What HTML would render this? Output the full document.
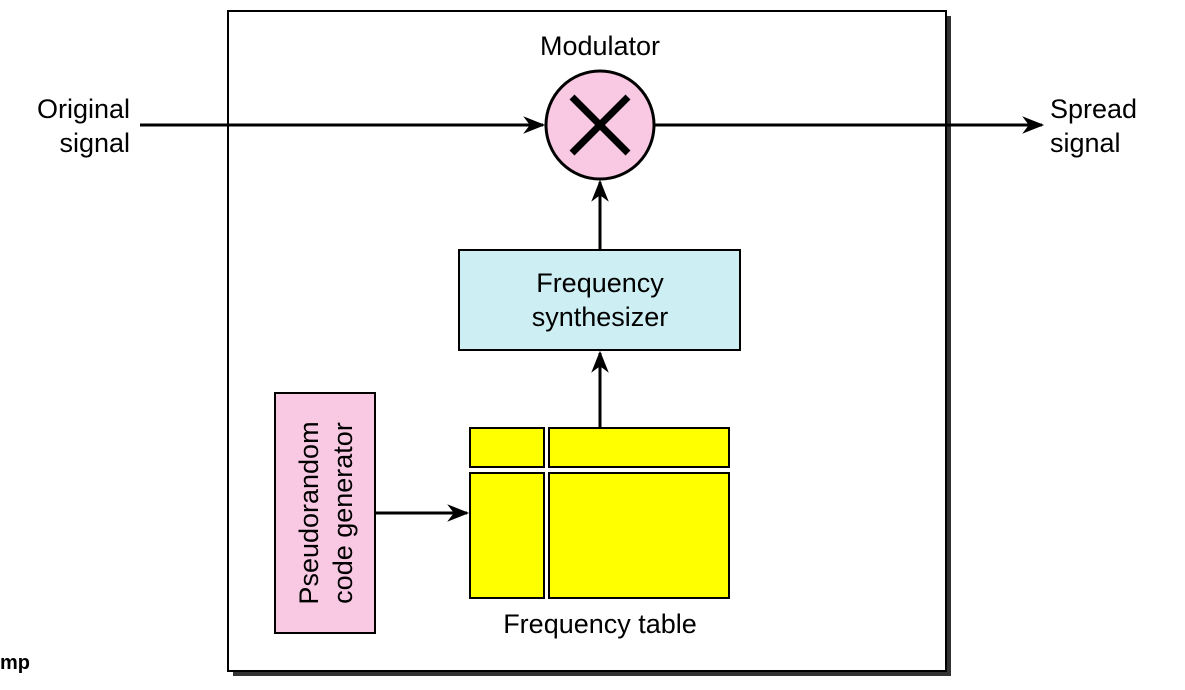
<!DOCTYPE html>
<html><head><style>body{margin:0;background:#fff;width:1185px;height:685px;overflow:hidden}</style></head>
<body>
<svg width="1185" height="685" viewBox="0 0 1185 685" xmlns="http://www.w3.org/2000/svg" font-family="Liberation Sans, sans-serif">
<defs><marker id="a" viewBox="0 0 10 10" refX="9" refY="5" markerWidth="24" markerHeight="22" markerUnits="userSpaceOnUse" orient="auto"><path d="M0,1 L10,5 L0,9 L3,5 Z" fill="#000"/></marker></defs>
<rect x="233" y="16" width="718" height="660" fill="#333"/>
<rect x="228" y="11" width="718" height="660" fill="#fff" stroke="#000" stroke-width="2"/>
<line x1="140" y1="125" x2="543" y2="125" stroke="#000" stroke-width="3" marker-end="url(#a)"/>
<line x1="655" y1="125" x2="1042" y2="125" stroke="#000" stroke-width="3" marker-end="url(#a)"/>
<circle cx="600" cy="125" r="54" fill="#f9c9e3" stroke="#000" stroke-width="3"/>
<line x1="572" y1="97" x2="628" y2="153" stroke="#000" stroke-width="7"/>
<line x1="628" y1="97" x2="572" y2="153" stroke="#000" stroke-width="7"/>
<line x1="600" y1="250" x2="600" y2="182" stroke="#000" stroke-width="3" marker-end="url(#a)"/>
<line x1="600" y1="428" x2="600" y2="353" stroke="#000" stroke-width="3" marker-end="url(#a)"/>
<line x1="376" y1="513" x2="467" y2="513" stroke="#000" stroke-width="3" marker-end="url(#a)"/>
<rect x="459" y="250" width="281" height="100" fill="#cdeef3" stroke="#000" stroke-width="2"/>
<rect x="275" y="393" width="100" height="240" fill="#f9c9e3" stroke="#000" stroke-width="2"/>
<g fill="#ffff00" stroke="#000" stroke-width="2">
<rect x="470" y="428" width="74" height="39"/><rect x="549" y="428" width="180" height="39"/>
<rect x="470" y="473" width="74" height="125"/><rect x="549" y="473" width="180" height="125"/>
</g>
<g font-size="27" fill="#000">
<text x="600" y="55" text-anchor="middle">Modulator</text>
<text x="130" y="118" text-anchor="end">Original</text>
<text x="130" y="152" text-anchor="end">signal</text>
<text x="1050" y="118">Spread</text>
<text x="1050" y="152">signal</text>
<text x="600" y="292" text-anchor="middle">Frequency</text>
<text x="600" y="326" text-anchor="middle">synthesizer</text>
<text x="600" y="633" text-anchor="middle">Frequency table</text>
<g transform="translate(318,513) rotate(-90)"><text x="0" y="0" text-anchor="middle">Pseudorandom</text><text x="0" y="34" text-anchor="middle">code generator</text></g>
</g>
<text x="0" y="669" font-size="20" font-weight="bold">mp</text>
</svg>
</body></html>
